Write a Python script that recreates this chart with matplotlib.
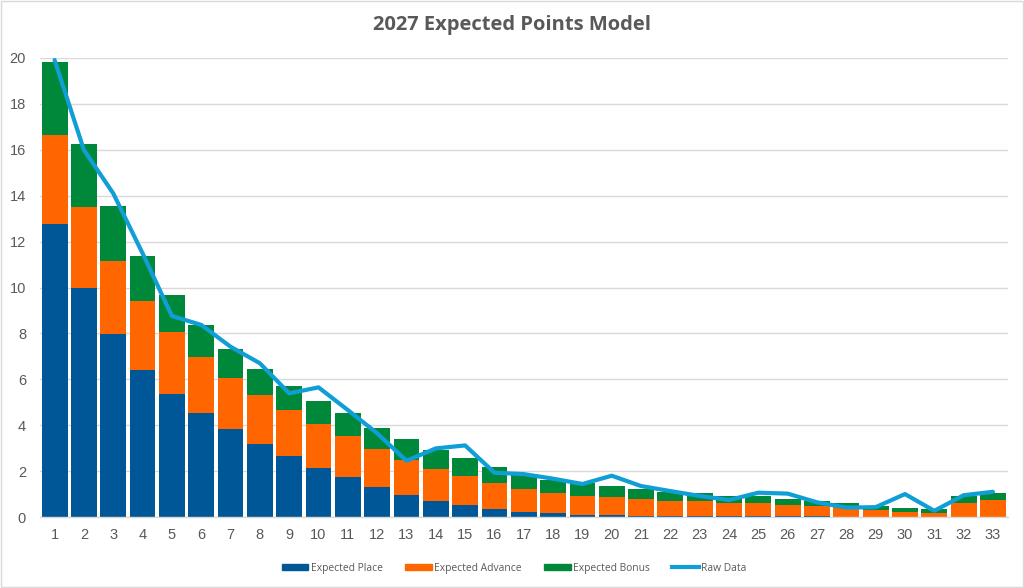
import matplotlib
matplotlib.use("Agg")
import matplotlib.pyplot as plt
from matplotlib.patches import Rectangle
from matplotlib.lines import Line2D
import numpy as np

plt.rcParams['font.family'] = ['Open Sans', 'DejaVu Sans']

categories = list(range(1, 34))
expected_place = [12.78, 9.98, 7.96, 6.39, 5.36, 4.55, 3.83, 3.18, 2.64, 2.13, 1.76,
                  1.31, 0.96, 0.70, 0.52, 0.36, 0.23, 0.16, 0.10, 0.09, 0.06, 0.06,
                  0.06, 0.05, 0.05, 0.04, 0.03, 0.02, 0.01, 0.01, 0.01, 0.01, 0.01]
expected_advance = [3.86, 3.52, 3.19, 3.01, 2.69, 2.42, 2.23, 2.12, 2.02, 1.91, 1.78,
                    1.65, 1.52, 1.40, 1.25, 1.11, 0.99, 0.89, 0.82, 0.77, 0.71, 0.64,
                    0.64, 0.56, 0.56, 0.50, 0.45, 0.40, 0.28, 0.21, 0.18, 0.60, 0.73]
expected_bonus = [3.19, 2.77, 2.39, 1.97, 1.64, 1.40, 1.26, 1.15, 1.05, 1.00, 1.01,
                  0.93, 0.90, 0.83, 0.79, 0.72, 0.61, 0.56, 0.55, 0.49, 0.46, 0.40,
                  0.35, 0.32, 0.29, 0.26, 0.20, 0.18, 0.20, 0.17, 0.16, 0.31, 0.32]
raw_data = [19.91, 15.99, 14.10, 11.49, 8.76, 8.37, 7.42, 6.70, 5.39, 5.65, 4.66,
            3.65, 2.45, 2.99, 3.12, 1.93, 1.87, 1.67, 1.44, 1.80, 1.35, 1.13,
            0.92, 0.74, 1.06, 1.02, 0.64, 0.41, 0.43, 1.00, 0.27, 0.95, 1.10]
y_ticks = [0, 2, 4, 6, 8, 10, 12, 14, 16, 18, 20]

c_place = '#005797'
c_adv = '#FF6600'
c_bonus = '#00883A'
c_raw = '#0F9ED5'
txt = '#595959'
grid = '#D9D9D9'

fig = plt.figure(figsize=(10.24, 5.88), dpi=100)
ax = fig.add_axes([0.039, 0.1207, 0.945, 0.7807])

x = np.array(categories)
p = np.array(expected_place)
a = np.array(expected_advance)
b = np.array(expected_bonus)
w = 0.88
ax.bar(x, p, width=w, color=c_place, label='Expected Place', zorder=2)
ax.bar(x, a, width=w, bottom=p, color=c_adv, label='Expected Advance', zorder=2)
ax.bar(x, b, width=w, bottom=p + a, color=c_bonus, label='Expected Bonus', zorder=2)
ax.plot(x, raw_data, color=c_raw, lw=3, label='Raw Data', zorder=3,
        solid_joinstyle='round', solid_capstyle='round')

ax.set_xlim(0.5, 33.5)
ax.set_ylim(0, 20)
ax.set_yticks(y_ticks)
ax.set_xticks(x)
ax.set_xticklabels([str(c) for c in categories])
ax.grid(axis='y', color=grid, lw=1, zorder=0)
ax.set_axisbelow(True)
for s in ['top', 'right', 'left']:
    ax.spines[s].set_visible(False)
ax.spines['bottom'].set_color(grid)
ax.spines['bottom'].set_linewidth(1)
ax.tick_params(axis='both', length=0, colors=txt, labelsize=10.5)
for lab in ax.get_xticklabels() + ax.get_yticklabels():
    lab.set_family(['Liberation Sans', 'DejaVu Sans'])
ax.tick_params(axis='y', pad=10)
ax.tick_params(axis='x', pad=8)

fig.text(0.5, 0.957, '2027 Expected Points Model', ha='center', va='center',
         fontsize=14.5, fontweight='bold', color=txt)

handles = [Rectangle((0, 0), 1, 1, color=c_place),
           Rectangle((0, 0), 1, 1, color=c_adv),
           Rectangle((0, 0), 1, 1, color=c_bonus),
           Line2D([0], [0], color=c_raw, lw=3)]
labels = ['Expected Place', 'Expected Advance', 'Expected Bonus', 'Raw Data']
leg = fig.legend(handles, labels, loc='center', bbox_to_anchor=(0.502, 0.034), ncol=4,
                 frameon=False, fontsize=7.4, handlelength=2.6, handleheight=0.45,
                 columnspacing=2.2, handletextpad=0.2, labelcolor=txt)

fig.patches.append(Rectangle((0.001, 0.002), 0.998, 0.996, transform=fig.transFigure,
                             fill=False, edgecolor=grid, lw=1))

fig.savefig('out.png', dpi=100, facecolor='white')
